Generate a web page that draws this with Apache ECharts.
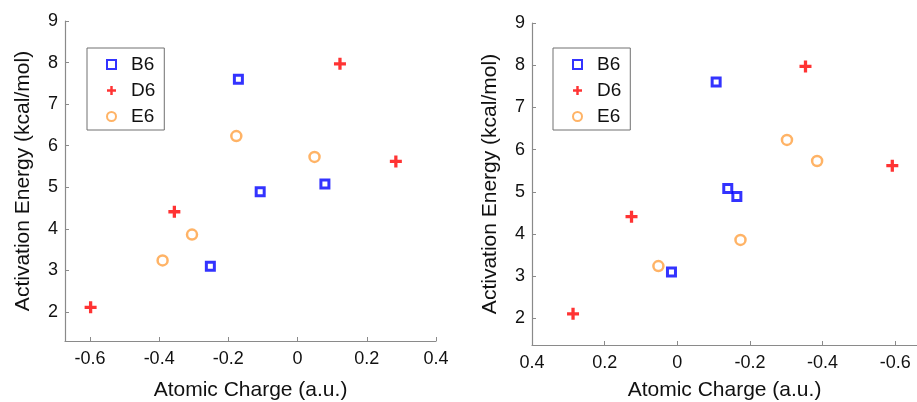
<!DOCTYPE html>
<html>
<head>
<meta charset="utf-8">
<script src="https://cdn.jsdelivr.net/npm/echarts@6/dist/echarts.min.js"></script>
<style>
html,body{margin:0;padding:0;background:#fff;}
#c{width:917px;height:402px;}
</style>
</head>
<body>
<div id="c"></div>
<script>
const seriesNames = ['B6', 'D6', 'E6'];
const yTicks = [2, 3, 4, 5, 6, 7, 8, 9];
const xTicks = [-0.6, -0.4, -0.2, 0, 0.2, 0.4];

const energyB6 = [7.6, 4.89, 5.08, 3.1];
const energyD6 = [7.97, 5.62, 4.41, 2.11];
const energyE6 = [6.23, 5.73, 3.86, 3.24];

const chargeLeftB6 = [-0.171, -0.108, 0.079, -0.252];
const chargeLeftD6 = [0.1225, 0.284, -0.356, -0.598];
const chargeLeftE6 = [-0.177, 0.049, -0.305, -0.390];

const chargeRightB6 = [-0.107, -0.164, -0.139, 0.016];
const chargeRightD6 = [-0.353, -0.592, 0.126, 0.287];
const chargeRightE6 = [-0.302, -0.385, -0.174, 0.052];

const zip = (xs, ys) => xs.map((x, i) => [x, ys[i]]);
const FONT = 'Liberation Sans, Arial, sans-serif';
const PLUS = 'path://M4,0H7V4H11V7H7V11H4V7H0V4H4Z';

const styles = {
  B6: { symbol: 'rect', symbolSize: 8, itemStyle: { color: '#ffffff', borderColor: '#0000ff', borderWidth: 3 } },
  D6: { symbol: PLUS, symbolSize: 12, itemStyle: { color: '#ff0000', borderWidth: 0 } },
  E6: { symbol: 'circle', symbolSize: 10, itemStyle: { color: '#ffffff', borderColor: '#ffa040', borderWidth: 2.5 } }
};

function mkSeries(name, idx, data) {
  return Object.assign({
    name: name, type: 'scatter', xAxisIndex: idx, yAxisIndex: idx,
    data: data, emphasis: { disabled: true }, z: 3
  }, JSON.parse(JSON.stringify(styles[name])));
}

function xAxis(idx, min, max, inverse, gap) {
  return {
    gridIndex: idx, type: 'value', min: min, max: max, inverse: inverse,
    name: 'Atomic Charge (a.u.)', nameLocation: 'middle', nameGap: gap,
    nameTextStyle: { fontFamily: FONT, fontSize: 21, color: '#111' },
    axisLine: { show: true, onZero: false, lineStyle: { color: '#8a8a8a', width: 1.2 } },
    axisTick: { show: true, inside: true, length: 4, customValues: xTicks, lineStyle: { color: '#8a8a8a' } },
    axisLabel: { customValues: xTicks, fontFamily: FONT, fontSize: 18, color: '#111', margin: 9 },
    splitLine: { show: false }
  };
}
function yAxis(idx, min) {
  return {
    gridIndex: idx, type: 'value', min: min, max: 9,
    name: 'Activation Energy (kcal/mol)', nameLocation: 'middle', nameGap: 31,
    nameTextStyle: { fontFamily: FONT, fontSize: 21, color: '#111' },
    axisLine: { show: true, onZero: false, lineStyle: { color: '#8a8a8a', width: 1.2 } },
    axisTick: { show: true, inside: true, length: 4, customValues: yTicks, lineStyle: { color: '#8a8a8a' } },
    axisLabel: { customValues: yTicks, fontFamily: FONT, fontSize: 18, color: '#111', margin: 7 },
    splitLine: { show: false }
  };
}
function legend(left) {
  return {
    data: seriesNames, orient: 'vertical', left: left, top: 48,
    itemWidth: 9, itemHeight: 9, itemGap: 7,
    padding: [7, 9, 4, 19],
    borderColor: '#707070', borderWidth: 1, backgroundColor: '#fff',
    textStyle: { fontFamily: FONT, fontSize: 19, lineHeight: 18, color: '#111', padding: [0, 0, 0, 10] },
    selectedMode: false
  };
}

const option = {
  animation: false,
  backgroundColor: '#ffffff',
  grid: [
    { left: 65, top: 21, width: 371, height: 320, outerBoundsMode: 'none', containLabel: false },
    { left: 532, top: 23, width: 385, height: 322, outerBoundsMode: 'none', containLabel: false }
  ],
  xAxis: [xAxis(0, -0.672, 0.4, false, 39), xAxis(1, -0.66, 0.4, true, 35)],
  yAxis: [yAxis(0, 1.3), yAxis(1, 1.37)],
  legend: [legend(87), legend(553)],
  series: [
    mkSeries('B6', 0, zip(chargeLeftB6, energyB6)),
    mkSeries('D6', 0, zip(chargeLeftD6, energyD6)),
    mkSeries('E6', 0, zip(chargeLeftE6, energyE6)),
    mkSeries('B6', 1, zip(chargeRightB6, energyB6)),
    mkSeries('D6', 1, zip(chargeRightD6, energyD6)),
    mkSeries('E6', 1, zip(chargeRightE6, energyE6))
  ]
};

const chart = echarts.init(document.getElementById('c'), null, { renderer: 'canvas' });
chart.setOption(option);
</script>
</body>
</html>
